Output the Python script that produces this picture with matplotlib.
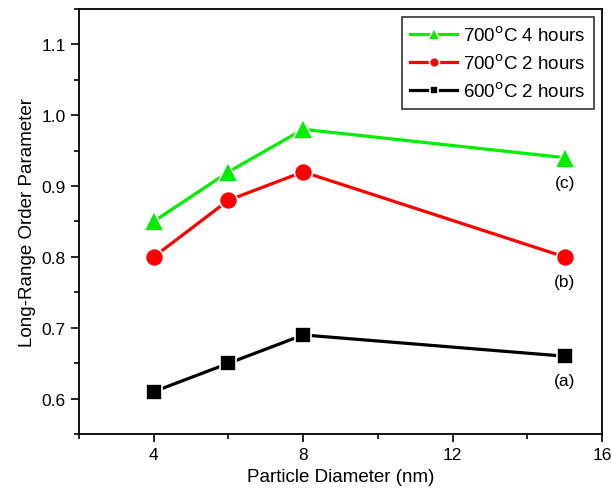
import matplotlib
matplotlib.use('Agg')
import matplotlib.pyplot as plt
from matplotlib.ticker import MultipleLocator

plt.rcParams['font.family'] = ['Liberation Sans', 'DejaVu Sans']

diam = [4, 6, 8, 15]
lro_600_2h = [0.61, 0.65, 0.69, 0.66]
lro_700_2h = [0.80, 0.88, 0.92, 0.80]
lro_700_4h = [0.85, 0.92, 0.98, 0.94]
tags = ['(a)', '(b)', '(c)']

fig = plt.figure(figsize=(6.12, 4.89), dpi=100)
ax = fig.add_axes([0.129, 0.110, 0.855, 0.870])

ax.plot(diam, lro_700_4h, color='#00ee00', marker='^', ms=15, lw=2.3,
        mec='white', mew=1.2, label='700$^{\\rm o}$C 4 hours')
ax.plot(diam, lro_700_2h, color='#ff0000', marker='o', ms=13, lw=2.3,
        mec='white', mew=1.2, label='700$^{\\rm o}$C 2 hours')
ax.plot(diam, lro_600_2h, color='black', marker='s', ms=11.5, lw=2.3,
        mec='white', mew=1.2, label='600$^{\\rm o}$C 2 hours')

for tag, ys in zip(tags, [lro_600_2h, lro_700_2h, lro_700_4h]):
    ax.text(diam[-1], ys[-1] - 0.024, tag, ha='center', va='top', fontsize=12.5)

ax.set_xlim(2, 16)
ax.set_ylim(0.55, 1.15)
ax.xaxis.set_major_locator(MultipleLocator(4))
ax.xaxis.set_minor_locator(MultipleLocator(2))
ax.yaxis.set_major_locator(MultipleLocator(0.1))
ax.yaxis.set_minor_locator(MultipleLocator(0.05))
ax.tick_params(which='both', direction='out', labelsize=12.5, width=1.2)
ax.tick_params(which='major', length=6)
ax.tick_params(which='minor', length=3.5)
for s in ax.spines.values():
    s.set_linewidth(1.3)

ax.set_xlabel('Particle Diameter (nm)', fontsize=13.5)
ax.set_ylabel('Long-Range Order Parameter', fontsize=13.5)

leg = ax.legend(loc='upper right', fontsize=13.5, fancybox=False,
                edgecolor='#333333', framealpha=1, handlelength=2.5,
                handletextpad=0.3, borderpad=0.45,
                markerscale=0.55, borderaxespad=0.45, labelspacing=0.45)
leg.get_frame().set_linewidth(1.2)

fig.savefig('out.png', dpi=100)
